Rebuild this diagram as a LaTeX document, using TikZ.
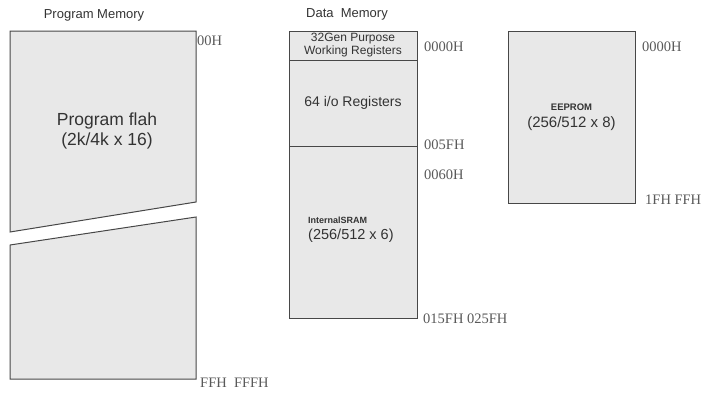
\documentclass[tikz,border=0pt]{standalone}
\usepackage{xcolor}
\usepackage{fontspec}
\setmainfont{Liberation Sans}
\newfontfamily\addrfont{Liberation Serif}
\usetikzlibrary{positioning}

\begin{document}
\begin{tikzpicture}[
    x=1pt, y=-1pt,
    memfill/.style={fill=black!9, draw=black!72, line width=1pt},
    membox/.style={
        memfill,
        rectangle,
        inner sep=0pt,
        outer sep=0pt,
        minimum width=128pt,
        text=black!80,
        align=center
    },
    addr/.style={font=\addrfont\fontsize{14.5}{14.5}\selectfont, text=black!65, anchor=west, inner sep=0pt},
    heading/.style={font=\fontsize{13}{13}\selectfont, text=black!80, inner sep=0pt}
]
\useasboundingbox (0,0) rectangle (706,394);

% program memory, drawn in two broken pieces
\draw[memfill] (10,31) -- (196,31) -- (196,202) -- (10,232) -- cycle;
\draw[memfill] (10,245) -- (196,217) -- (196,379) -- (10,379) -- cycle;
\node[heading] (progtitle) at (94,15) {Program Memory};
\node[
    text=black!80,
    align=center,
    font=\fontsize{17.5}{19.5}\selectfont
] (flash) at (107,131) {Program flah\\(2k/4k x 16)};
\node[addr] (progtop) at (197,41) {00H};
\node[addr] (progend) at (200,383) {FFH\ \ FFFH};

% data memory
\node[heading] (datatitle) at (347,14) {Data\ \ Memory};
\node[
    membox,
    anchor=north west,
    minimum height=29pt,
    font=\fontsize{12}{13}\selectfont
] (gpr) at (289,31) {32Gen Purpose\\Working Registers};
\node[
    membox,
    below=0pt of gpr,
    minimum height=86pt,
    font=\fontsize{14}{15}\selectfont
] (ioregs) {64 i/o Registers};
\node[
    membox,
    below=0pt of ioregs,
    minimum height=172pt
] (sram) {};
\node[
    anchor=west,
    inner sep=0pt,
    align=left,
    text=black!80,
    font=\fontsize{14.5}{16}\selectfont
] (sramtext) at (308,230) {{\bfseries\fontsize{9}{10}\selectfont InternalSRAM}\\(256/512 x 6)};
\node[addr] (datatop) at (424,47) {0000H};
\node[addr] (ioend) at (424,145) {005FH};
\node[addr] (sramtop) at (424,175) {0060H};
\node[addr] (dataend) at (423,319) {015FH\ 025FH};

% eeprom
\node[
    membox,
    anchor=north west,
    minimum width=127pt,
    minimum height=172pt,
    font=\fontsize{15}{17}\selectfont
] (eeprom) at (508,31) {{\bfseries\fontsize{9.5}{10}\selectfont EEPROM}\\(256/512 x 8)};
\node[addr] (eetop) at (642,47) {0000H};
\node[addr] (eeend) at (645,200) {1FH FFH};
\end{tikzpicture}
\end{document}
